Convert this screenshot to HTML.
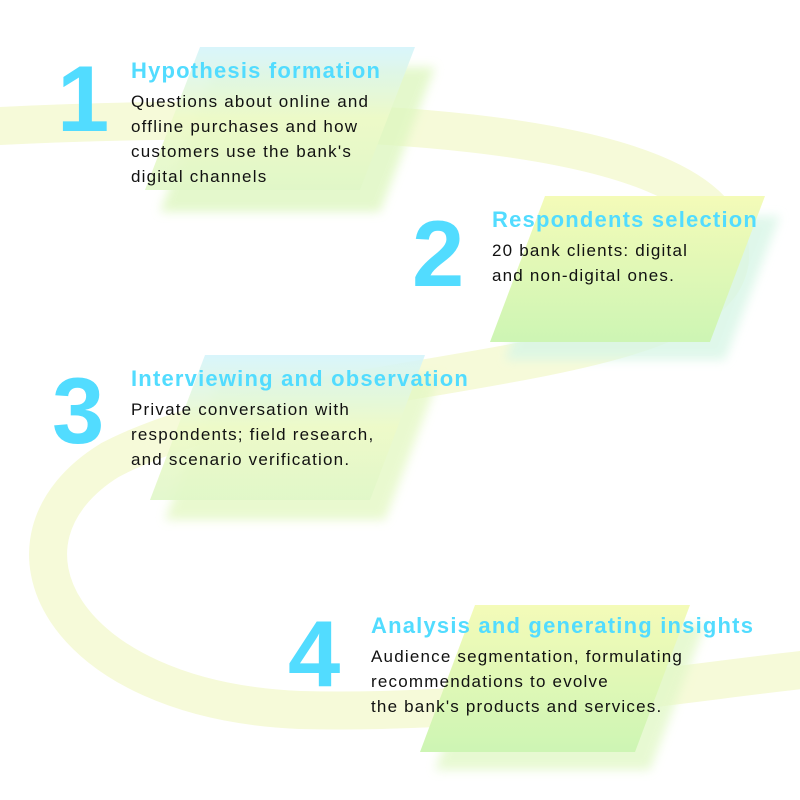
<!DOCTYPE html>
<html><head><style>
body{margin:0;width:800px;height:800px;background:#fff;overflow:hidden;position:relative;font-family:"Liberation Sans",sans-serif}
svg{position:absolute;left:0;top:0}
.n{position:absolute;color:#52dcff;font-size:94px;font-weight:bold;line-height:1}
.t{position:absolute;color:#52dcff;font-size:22px;font-weight:bold;white-space:nowrap;letter-spacing:1.2px}
.b{position:absolute;color:#111;font-size:17px;line-height:25px;white-space:nowrap;letter-spacing:1.2px}
</style></head><body>
<svg width="800" height="800">
<defs>
<linearGradient id="g" x1="0" y1="0" x2="0" y2="1"><stop offset="0" stop-color="#f4fbb8"/><stop offset="1" stop-color="#cdf5b4"/></linearGradient>
<linearGradient id="g2" x1="0" y1="0" x2="0" y2="1"><stop offset="0" stop-color="#d4f4fb"/><stop offset="0.5" stop-color="#eefac8"/><stop offset="1" stop-color="#e0f7c8"/></linearGradient>
<filter id="bl"><feGaussianBlur stdDeviation="5"/></filter>
</defs>
<path d="M-20 127 C 300 110, 720 120, 730 250 C 740 380, 300 360, 110 460 C -20 540, 60 700, 300 710 C 500 715, 700 680, 820 668" fill="none" stroke="#f6fad9" stroke-width="38"/>
<g filter="url(#bl)" opacity="0.8">
<polygon points="215,67 435,67 380,212 160,212" fill="#def7c0"/>
<polygon points="560,216 780,216 725,360 505,360" fill="#d8f6e6"/>
<polygon points="220,375 440,375 385,520 165,520" fill="#e4f8c4"/>
<polygon points="490,625 705,625 650,770 435,770" fill="#e2f8c8"/>
</g>
<polygon points="200,47 415,47 360,190 145,190" fill="url(#g2)" opacity="0.9"/>
<polygon points="545,196 765,196 710,342 490,342" fill="url(#g)"/>
<polygon points="205,355 425,355 370,500 150,500" fill="url(#g2)" opacity="0.9"/>
<polygon points="475,605 690,605 635,752 420,752" fill="url(#g)"/>
</svg>
<div class="n" style="left:57px;top:52px">1</div>
<div class="t" style="left:131px;top:58px">Hypothesis formation</div>
<div class="b" style="left:131px;top:89px">Questions about online and<br>offline purchases and how<br>customers use the bank's<br>digital channels</div>
<div class="n" style="left:412px;top:207px">2</div>
<div class="t" style="left:492px;top:207px">Respondents selection</div>
<div class="b" style="left:492px;top:238px">20 bank clients: digital<br>and non-digital ones.</div>
<div class="n" style="left:52px;top:364px">3</div>
<div class="t" style="left:131px;top:366px">Interviewing and observation</div>
<div class="b" style="left:131px;top:397px">Private conversation with<br>respondents; field research,<br>and scenario verification.</div>
<div class="n" style="left:288px;top:607px">4</div>
<div class="t" style="left:371px;top:613px">Analysis and generating insights</div>
<div class="b" style="left:371px;top:644px">Audience segmentation, formulating<br>recommendations to evolve<br>the bank's products and services.</div>
</body></html>
